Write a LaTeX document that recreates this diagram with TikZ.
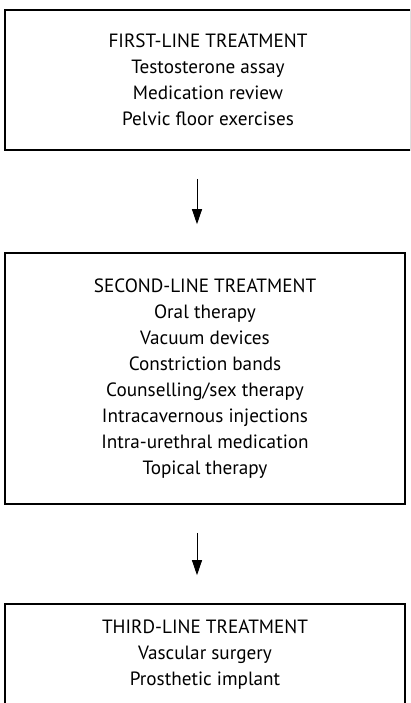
\documentclass[tikz,border=0pt]{standalone}
\usepackage{fontspec}
\setmainfont{PT Sans}
\usetikzlibrary{arrows.meta,positioning,calc}

\begin{document}
\begin{tikzpicture}[x=1pt,y=1pt,
		box/.style={draw=black,line width=1.6pt,align=center,inner sep=0pt,
			font=\fontsize{19.2}{26}\selectfont},
		arr/.style={-{Triangle[width=10pt,length=15pt]},line width=0.9pt,
			shorten <=28pt,shorten >=28pt}
		]
		
		% --- Page frame
		\useasboundingbox (0,0) rectangle (410,-703);
		\clip (0,0) rectangle (410,-703);
		
		% --- Treatment boxes
		\node[box,minimum width=406pt,minimum height=140pt] (first) at (208,-80)
		{FIRST-LINE TREATMENT\\Testosterone assay\\Medication review\\Pelvic floor exercises};
		
		\node[box,minimum width=400pt,minimum height=251pt] (second) at (205,-378.5)
		{SECOND-LINE TREATMENT\\Oral therapy\\Vacuum devices\\Constriction bands\\
			Counselling/sex therapy\\Intracavernous injections\\Intra-urethral medication\\Topical therapy};
		
		\node[box,minimum width=400pt,minimum height=102pt] (third) at (205,-655)
		{THIRD-LINE TREATMENT\\Vascular surgery\\Prosthetic implant};
		
		% --- Arrows between boxes
		\coordinate (ax) at (197,0);
		\draw[arr] (first.south -| ax) -- (second.north -| ax);
		\draw[arr] (second.south -| ax) -- (third.north -| ax);
		
	\end{tikzpicture}
\end{document}
